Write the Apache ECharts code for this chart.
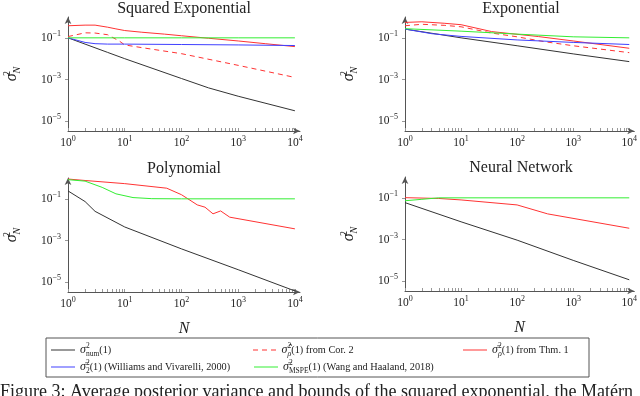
<!DOCTYPE html>
<html>
<head>
<meta charset="utf-8">
<script src="https://cdn.jsdelivr.net/npm/echarts@6/dist/echarts.min.js"></script>
<style>
  html, body { margin: 0; padding: 0; background: #fff; }
  #chart { width: 640px; height: 396px; }
</style>
</head>
<body>
<div id="chart"></div>
<script>
// tick labels (powers of ten)
const xTickExps = [0, 1, 2, 3, 4]
const yTickExps = [-5, -3, -1]
const panelTitles = ['Squared Exponential', 'Exponential', 'Polynomial', 'Neural Network']

// Squared Exponential
const seNumN = [1, 2, 5, 10, 100, 300, 1000, 10000]
const seNum = [1.0e-1, 5.01e-2, 2.0e-2, 1.0e-2, 1.12e-3, 3.98e-4, 1.58e-4, 3.16e-5]
const seCorN = [1, 2, 3, 5, 8, 10, 20, 100, 1000, 10000]
const seCor = [1.15e-1, 1.74e-1, 1.70e-1, 1.41e-1, 7.08e-2, 4.57e-2, 3.39e-2, 1.74e-2, 4.79e-3, 1.26e-3]
const seThmN = [1, 2, 3, 5, 7, 10, 20, 50, 100, 300, 1000, 3000, 10000]
const seThm = [3.80e-1, 4.07e-1, 4.07e-1, 3.24e-1, 2.69e-1, 2.24e-1, 1.86e-1, 1.51e-1, 1.26e-1, 9.55e-2, 7.08e-2, 5.25e-2, 3.80e-2]
const seWvN = [1, 2, 3, 5, 10, 100, 1000, 10000]
const seWv = [1.0e-1, 6.03e-2, 5.25e-2, 5.01e-2, 5.01e-2, 4.79e-2, 4.57e-2, 4.27e-2]
const seWhN = [1, 10, 100, 1000, 10000]
const seWh = [1.0e-1, 1.0e-1, 1.0e-1, 1.0e-1, 1.0e-1]

// Exponential
const exNumN = [1, 10, 100, 1000, 10000]
const exNum = [2.63e-1, 1.0e-1, 4.17e-2, 1.70e-2, 7.24e-3]
const exCorN = [1, 2, 5, 10, 35, 100, 300, 1000, 10000]
const exCor = [3.80e-1, 4.47e-1, 3.98e-1, 3.39e-1, 1.70e-1, 1.12e-1, 6.61e-2, 4.17e-2, 1.95e-2]
const exThmN = [1, 2, 5, 10, 35, 240, 1000, 10000]
const exThm = [5.50e-1, 5.89e-1, 5.01e-1, 4.27e-1, 2.0e-1, 1.15e-1, 7.08e-2, 3.16e-2]
const exWvN = [1, 3, 10, 100, 1000, 10000]
const exWv = [2.63e-1, 1.58e-1, 1.17e-1, 7.94e-2, 6.03e-2, 4.79e-2]
const exWhN = [1, 10, 100, 1000, 10000]
const exWh = [2.75e-1, 2.09e-1, 1.51e-1, 1.12e-1, 1.0e-1]

// Polynomial
const poNumN = [1, 2, 3, 10, 100, 1000, 10000]
const poNum = [2.40e-1, 7.41e-2, 2.51e-2, 4.47e-3, 3.98e-4, 3.98e-5, 3.80e-6]
const poThmN = [1, 2, 10, 55, 100, 130, 190, 260, 360, 490, 710, 10000]
const poThm = [8.91e-1, 7.59e-1, 5.37e-1, 3.24e-1, 1.58e-1, 1.0e-1, 5.13e-2, 3.98e-2, 1.91e-2, 2.63e-2, 1.32e-2, 3.63e-3]
const poWhN = [1, 2, 4, 7, 14, 30, 100, 10000]
const poWh = [8.32e-1, 7.08e-1, 3.55e-1, 1.74e-1, 1.15e-1, 1.02e-1, 1.0e-1, 1.0e-1]

// Neural Network
const nnNumN = [1, 10, 100, 1000, 10000]
const nnNum = [5.89e-2, 7.08e-3, 9.33e-4, 1.0e-4, 1.17e-5]
const nnThmN = [1, 4, 10, 100, 350, 10000]
const nnThm = [1.02e-1, 9.33e-2, 7.94e-2, 4.57e-2, 1.70e-2, 3.47e-3]
const nnWhN = [1, 2, 4, 10000]
const nnWh = [7.24e-2, 8.51e-2, 1.0e-1, 1.0e-1]

const legendLabels = {
  num: '{i|σ}{p|2}{d|num}{t|(1)}',
  cor2: '{i|σ̂}{p|2}{r|ρ}{t|(1) from Cor. 2}',
  thm1: '{i|σ̄}{p|2}{r|ρ}{t|(1) from Thm. 1}',
  wv: '{i|σ̄}{p|2}{d|2}{t|(1) (Williams and Vivarelli, 2000)}',
  wh: '{i|σ̄}{p|2}{d|MSPE}{t|(1) (Wang and Haaland, 2018)}',
}

const serif = 'Liberation Serif'
const lineStyles = {
  num: { color: '#333333', width: 1 },
  cor2: { color: '#ff3333', width: 1, type: [5, 4] },
  thm1: { color: '#ff3333', width: 1 },
  wv: { color: '#4040ff', width: 1 },
  wh: { color: '#33ee33', width: 1 },
}
const solidIcon = 'path://M0,0H24V1H0Z'
const dashIcon = 'path://M0,0H5V1H0Z M9,0H14V1H9Z M18,0H23V1H18Z'

const grids = [
  { left: 68, top: 17, width: 232, height: 114 },
  { left: 405, top: 17, width: 232, height: 114 },
  { left: 68, top: 178, width: 232, height: 114 },
  { left: 405, top: 177, width: 232, height: 114 },
]

// minor ticks at 1..9 x 10^k
const xMinorTicks = []
for (let k = 0; k < 4; k++) {
  for (let m = 1; m < 10; m++) xMinorTicks.push(Math.log10(m * Math.pow(10, k)))
}
xMinorTicks.push(4)

const powRich = {
  b: { fontFamily: serif, fontSize: 11.5, color: '#222', lineHeight: 16 },
  s: { fontFamily: serif, fontSize: 8, color: '#222', verticalAlign: 'top', lineHeight: 9 },
}
const powLabel = (v) => '{b|10}{s|' + String(Math.round(v)).replace('-', '−') + '}'

const axisLine = {
  show: true,
  onZero: false,
  lineStyle: { color: '#555', width: 1 },
  symbol: ['none', 'arrow'],
  symbolSize: [5, 7],
}

const xAxes = grids.map((g, i) => ({
  type: 'value',
  gridIndex: i,
  min: 0,
  max: 4.09,
  name: i >= 2 ? 'N' : '',
  nameLocation: 'middle',
  nameGap: 29,
  nameTextStyle: { fontFamily: serif, fontStyle: 'italic', fontSize: 16, color: '#222' },
  axisLine,
  axisTick: { show: true, inside: true, length: 3, customValues: xMinorTicks, lineStyle: { color: '#999' } },
  axisLabel: { customValues: xTickExps, margin: 4, formatter: powLabel, rich: powRich },
  splitLine: { show: false },
}))

const yAxes = grids.map((g, i) => ({
  type: 'value',
  gridIndex: i,
  min: -5.47,
  max: 0,
  name: '{i|σ}{p|2}{d|N}',
  nameLocation: 'middle',
  nameRotate: 90,
  nameGap: 46,
  nameTextStyle: {
    rich: {
      i: { fontFamily: serif, fontStyle: 'italic', fontSize: 16, color: '#222', lineHeight: 20 },
      p: { fontFamily: serif, fontSize: 10, color: '#222', verticalAlign: 'top', width: 0, lineHeight: 10 },
      d: { fontFamily: serif, fontStyle: 'italic', fontSize: 10, color: '#222', verticalAlign: 'bottom', lineHeight: 10 },
    },
  },
  axisLine,
  axisTick: { show: true, length: 3, customValues: yTickExps, lineStyle: { color: '#999' } },
  axisLabel: { customValues: yTickExps, margin: 7, formatter: powLabel, rich: powRich },
  splitLine: { show: false },
}))

const line = (name, gi, ns, vals) => ({
  name,
  type: 'line',
  xAxisIndex: gi,
  yAxisIndex: gi,
  showSymbol: false,
  symbol: 'none',
  silent: true,
  lineStyle: lineStyles[name],
  itemStyle: { color: lineStyles[name].color },
  data: ns.map((n, i) => [Math.log10(n), Math.log10(vals[i])]),
})

const series = [
  line('num', 0, seNumN, seNum),
  line('cor2', 0, seCorN, seCor),
  line('thm1', 0, seThmN, seThm),
  line('wv', 0, seWvN, seWv),
  line('wh', 0, seWhN, seWh),
  line('num', 1, exNumN, exNum),
  line('cor2', 1, exCorN, exCor),
  line('thm1', 1, exThmN, exThm),
  line('wv', 1, exWvN, exWv),
  line('wh', 1, exWhN, exWh),
  line('num', 2, poNumN, poNum),
  line('thm1', 2, poThmN, poThm),
  line('wh', 2, poWhN, poWh),
  line('num', 3, nnNumN, nnNum),
  line('thm1', 3, nnThmN, nnThm),
  line('wh', 3, nnWhN, nnWh),
]

const legendRich = {
  i: { fontFamily: serif, fontStyle: 'italic', fontSize: 12, color: '#222', lineHeight: 16 },
  p: { fontFamily: serif, fontSize: 7.5, color: '#222', verticalAlign: 'top', width: 0, lineHeight: 8 },
  d: { fontFamily: serif, fontSize: 7.5, color: '#222', verticalAlign: 'bottom', lineHeight: 8 },
  r: { fontFamily: serif, fontStyle: 'italic', fontSize: 8, color: '#222', verticalAlign: 'bottom', lineHeight: 8 },
  t: { fontFamily: serif, fontSize: 10.3, color: '#222' },
}
const legendPos = {
  num: [51, 342], cor2: [253, 342], thm1: [463, 342], wv: [51, 359], wh: [254, 359],
}
const legends = Object.keys(legendPos).map((name) => ({
  data: [name],
  left: legendPos[name][0],
  top: legendPos[name][1],
  padding: 0,
  icon: name === 'cor2' ? dashIcon : solidIcon,
  itemWidth: 24,
  itemHeight: 1,
  itemGap: 0,
  selectedMode: false,
  formatter: (n) => legendLabels[n],
  textStyle: { rich: legendRich },
}))

const titleTexts = panelTitles.map((t, i) => ({
  text: t,
  left: grids[i].left + 116,
  top: i < 2 ? 1 : grids[i].top - 17,
  textAlign: 'center',
  padding: 0,
  textStyle: { fontFamily: serif, fontSize: 16, fontWeight: 'normal', color: '#222' },
}))
titleTexts.push({
  text: 'Figure 3: Average posterior variance and bounds of the squared exponential, the Matérn',
  left: 0,
  top: 383,
  padding: 0,
  textStyle: { fontFamily: serif, fontSize: 18, fontWeight: 'normal', color: '#222' },
})

const chart = echarts.init(document.getElementById('chart'))
chart.setOption({
  animation: false,
  backgroundColor: '#fff',
  title: titleTexts,
  grid: grids,
  xAxis: xAxes,
  yAxis: yAxes,
  legend: legends,
  graphic: [{
    type: 'rect',
    shape: { x: 46, y: 338, width: 543, height: 39 },
    style: { fill: 'none', stroke: '#555', lineWidth: 1 },
    silent: true,
  }],
  series,
})
</script>
</body>
</html>
